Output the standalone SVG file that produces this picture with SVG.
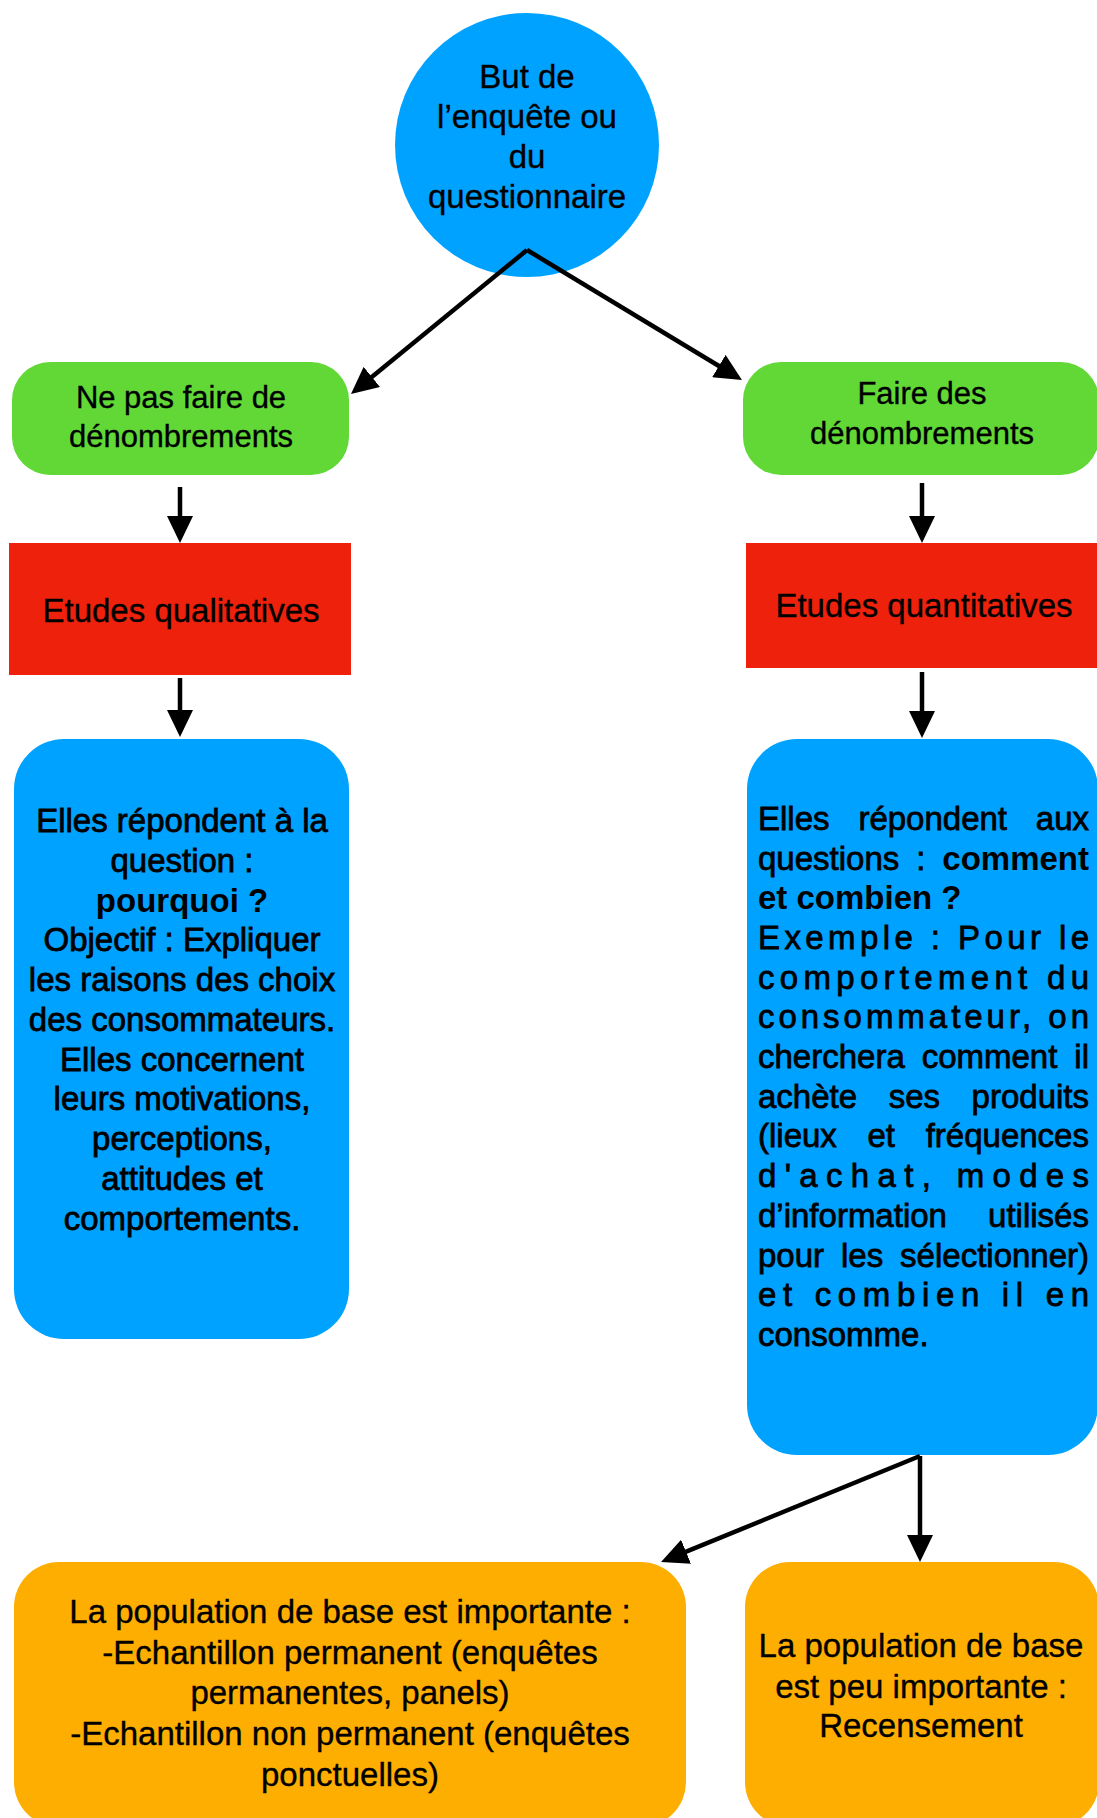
<svg xmlns="http://www.w3.org/2000/svg" width="1097" height="1818" viewBox="0 0 1097 1818">
<style>
text{font-family:"Liberation Sans",Arial,Helvetica,sans-serif;fill:#000;stroke:#000;stroke-width:0.35px;}
.c{text-anchor:middle;}
.t33{font-size:33px;}
.t31{font-size:31px;}
.med{stroke:#000;stroke-width:0.8px;}
.b{font-weight:bold;stroke:none;}
.blue{fill:#00A2FF;}
.green{fill:#61D836;}
.red{fill:#EE220C;}
.orange{fill:#FEAE00;}
.conn line{stroke:#000;stroke-width:4.5;fill:none;marker-end:url(#ah);}
</style>
<defs>
<marker id="ah" markerUnits="userSpaceOnUse" markerWidth="27" markerHeight="26" refX="17" refY="13" orient="auto">
<path d="M0,0 L27,13 L0,26 Z" fill="#000"/>
</marker>
</defs>
<rect width="1097" height="1818" fill="#fff"/>

<g id="but">
<circle class="blue" cx="527" cy="145" r="132"/>
<text class="c t33" x="527" y="88">But de</text>
<text class="c t33" x="527" y="128">l’enquête ou</text>
<text class="c t33" x="527" y="168">du</text>
<text class="c t33" x="527" y="208">questionnaire</text>
</g>

<g id="ne-pas">
<rect class="green" x="12" y="362" width="337" height="113" rx="38"/>
<text class="c t31" x="181" y="408">Ne pas faire de</text>
<text class="c t31" x="181" y="447">dénombrements</text>
</g>

<g id="faire">
<rect class="green" x="743" y="362" width="356" height="113" rx="38"/>
<text class="c t31" x="922" y="404">Faire des</text>
<text class="c t31" x="922" y="444">dénombrements</text>
</g>

<g id="qualitatives">
<rect class="red" x="9" y="543" width="342" height="132"/>
<text class="c t33" x="181" y="622">Etudes qualitatives</text>
</g>

<g id="quantitatives">
<rect class="red" x="746" y="543" width="352" height="125"/>
<text class="c t33" x="924" y="617">Etudes quantitatives</text>
</g>

<g id="qual-desc">
<rect class="blue" x="14" y="739" width="335" height="600" rx="50"/>
<text class="c t33 med" x="182" y="832">Elles répondent à la</text>
<text class="c t33 med" x="182" y="872">question :</text>
<text class="c t33 b" x="182" y="912">pourquoi ?</text>
<text class="c t33 med" x="182" y="951">Objectif : Expliquer</text>
<text class="c t33 med" x="182" y="991">les raisons des choix</text>
<text class="c t33 med" x="182" y="1031">des consommateurs.</text>
<text class="c t33 med" x="182" y="1071">Elles concernent</text>
<text class="c t33 med" x="182" y="1110">leurs motivations,</text>
<text class="c t33 med" x="182" y="1150">perceptions,</text>
<text class="c t33 med" x="182" y="1190">attitudes et</text>
<text class="c t33 med" x="182" y="1230">comportements.</text>
</g>

<g id="quant-desc">
<rect class="blue" x="747" y="739" width="351" height="716" rx="50"/>
<text class="t33 med" y="830"><tspan x="758">Elles</tspan><tspan x="858.4">répondent</tspan><tspan x="1035.8">aux</tspan></text>
<text class="t33 med" y="870"><tspan x="758">questions</tspan><tspan x="916.2">:</tspan><tspan class="b" x="942.3">comment</tspan></text>
<text class="t33 b" x="758" y="909">et combien ?</text>
<text class="t33 med" x="758" y="949" textLength="331" lengthAdjust="spacing">Exemple : Pour le</text>
<text class="t33 med" x="758" y="989" textLength="331" lengthAdjust="spacing">comportement du</text>
<text class="t33 med" x="758" y="1028" textLength="331" lengthAdjust="spacing">consommateur, on</text>
<text class="t33 med" y="1068"><tspan x="758">cherchera</tspan><tspan x="921.7">comment</tspan><tspan x="1074.3">il</tspan></text>
<text class="t33 med" y="1108"><tspan x="758">achète</tspan><tspan x="888.7">ses</tspan><tspan x="971.6">produits</tspan></text>
<text class="t33 med" y="1147"><tspan x="758">(lieux</tspan><tspan x="867.5">et</tspan><tspan x="925.7">fréquences</tspan></text>
<text class="t33 med" x="758" y="1187" textLength="331" lengthAdjust="spacing">d'achat, modes</text>
<text class="t33 med" y="1227"><tspan x="758">d’information</tspan><tspan x="988.1">utilisés</tspan></text>
<text class="t33 med" y="1267"><tspan x="758">pour</tspan><tspan x="841">les</tspan><tspan x="900.1">sélectionner)</tspan></text>
<text class="t33 med" x="758" y="1306" textLength="331" lengthAdjust="spacing">et combien il en</text>
<text class="t33 med" x="758" y="1346">consomme.</text>
</g>

<g id="importante">
<rect class="orange" x="14" y="1562" width="672" height="265" rx="45"/>
<text class="c t33" x="350" y="1623">La population de base est importante :</text>
<text class="c t33" x="350" y="1664">-Echantillon permanent (enquêtes</text>
<text class="c t33" x="350" y="1704">permanentes, panels)</text>
<text class="c t33" x="350" y="1745">-Echantillon non permanent (enquêtes</text>
<text class="c t33" x="350" y="1786">ponctuelles)</text>
</g>

<g id="peu-importante">
<rect class="orange" x="745" y="1562" width="354" height="265" rx="45"/>
<text class="c t33" x="921" y="1657">La population de base</text>
<text class="c t33" x="921" y="1698">est peu importante :</text>
<text class="c t33" x="921" y="1737">Recensement</text>
</g>

<g id="connectors" class="conn">
<line x1="527" y1="250" x2="358.7" y2="387.7"/>
<line x1="527" y1="250" x2="733.4" y2="374.8"/>
<line x1="180" y1="487" x2="180" y2="533"/>
<line x1="922" y1="483" x2="922" y2="533"/>
<line x1="180" y1="678" x2="180" y2="727"/>
<line x1="922" y1="672" x2="922" y2="728"/>
<line x1="920" y1="1456" x2="920" y2="1552"/>
<line x1="920" y1="1456" x2="670.3" y2="1558.2"/>
</g>
</svg>
